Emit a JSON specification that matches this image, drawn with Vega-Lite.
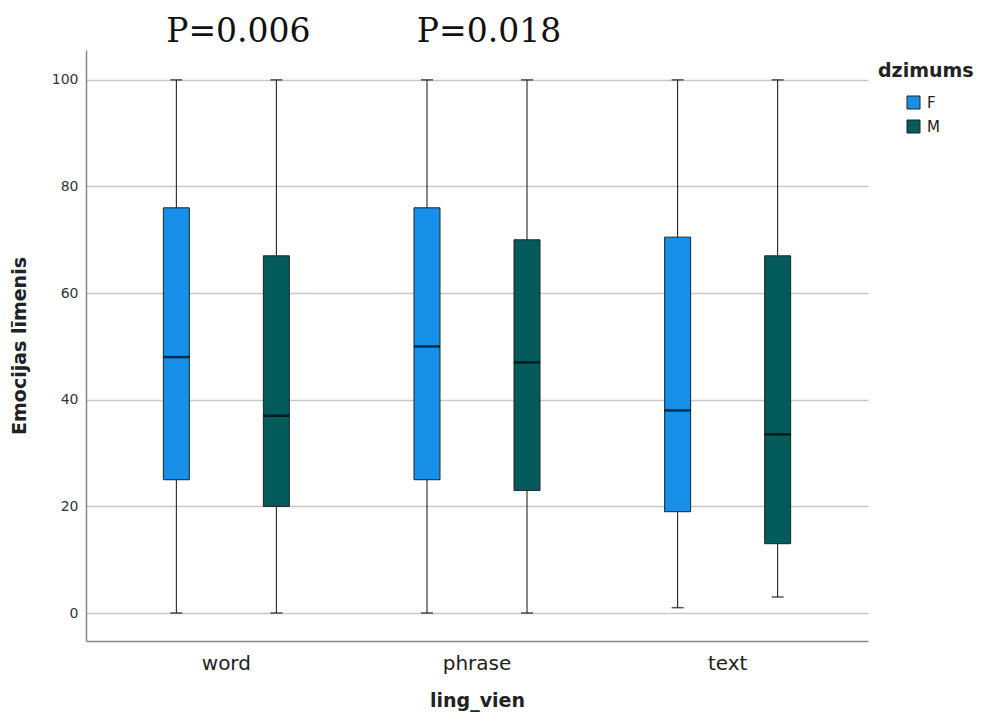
{
  "$schema": "https://vega.github.io/schema/vega-lite/v6.json",
  "width": 782,
  "height": 591,
  "autosize": {"type": "none"},
  "padding": {"left": 86, "top": 50, "right": 113, "bottom": 77},
  "background": "white",
  "config": {
    "view": {"stroke": null},
    "font": "DejaVu Sans"
  },
  "datasets": {
    "boxes": [
      {"ling_vien": "word", "dzimums": "F", "min": 0, "q1": 25, "median": 48, "q3": 76, "max": 100},
      {"ling_vien": "word", "dzimums": "M", "min": 0, "q1": 20, "median": 37, "q3": 67, "max": 100},
      {"ling_vien": "phrase", "dzimums": "F", "min": 0, "q1": 25, "median": 50, "q3": 76, "max": 100},
      {"ling_vien": "phrase", "dzimums": "M", "min": 0, "q1": 23, "median": 47, "q3": 70, "max": 100},
      {"ling_vien": "text", "dzimums": "F", "min": 1, "q1": 19, "median": 38, "q3": 70.5, "max": 100},
      {"ling_vien": "text", "dzimums": "M", "min": 3, "q1": 13, "median": 33.5, "q3": 67, "max": 100}
    ],
    "pvals": [
      {"ling_vien": "word", "label": "P=0.006"},
      {"ling_vien": "phrase", "label": "P=0.018"}
    ]
  },
  "encoding": {
    "x": {
      "field": "ling_vien",
      "type": "nominal",
      "sort": ["word", "phrase", "text"],
      "scale": {"paddingInner": 0, "paddingOuter": 0.06},
      "axis": {
        "title": "ling_vien",
        "titleFont": "DejaVu Sans",
        "titleFontWeight": "bold",
        "titleFontSize": 19,
        "titleColor": "#222",
        "titlePadding": 18,
        "labelAngle": 0,
        "labelFontSize": 20,
        "labelColor": "#222",
        "labelPadding": 12,
        "ticks": false,
        "domainColor": "#888",
        "domainWidth": 1.5,
        "grid": false
      }
    }
  },
  "layer": [
    {
      "data": {"name": "boxes"},
      "mark": {"type": "rule", "color": "#111", "strokeWidth": 1},
      "encoding": {
        "xOffset": {"field": "dzimums", "type": "nominal", "scale": {"paddingInner": 0.74, "paddingOuter": 0.623}},
        "y": {
          "field": "min",
          "type": "quantitative",
          "scale": {"domain": [-5.25, 105.6], "nice": false, "zero": false},
          "axis": {
            "title": "Emocijas līmenis",
            "titleFont": "DejaVu Sans",
            "titleFontWeight": "bold",
            "titleFontSize": 19,
            "titleColor": "#222",
            "titlePadding": 22,
            "values": [0, 20, 40, 60, 80, 100],
            "labelFontSize": 14,
            "labelColor": "#333",
            "labelPadding": 8,
            "ticks": false,
            "domainColor": "#888",
            "domainWidth": 1.5,
            "gridColor": "#c8c8c8",
            "gridWidth": 1.5
          }
        },
        "y2": {"field": "max"}
      }
    },
    {
      "data": {"name": "boxes"},
      "mark": {"type": "tick", "color": "#111", "size": 12, "thickness": 1.5},
      "encoding": {
        "xOffset": {"field": "dzimums", "type": "nominal"},
        "y": {"field": "min", "type": "quantitative"}
      }
    },
    {
      "data": {"name": "boxes"},
      "mark": {"type": "tick", "color": "#111", "size": 12, "thickness": 1.5},
      "encoding": {
        "xOffset": {"field": "dzimums", "type": "nominal"},
        "y": {"field": "max", "type": "quantitative"}
      }
    },
    {
      "data": {"name": "boxes"},
      "mark": {"type": "bar", "stroke": "#222", "strokeWidth": 1},
      "encoding": {
        "xOffset": {"field": "dzimums", "type": "nominal"},
        "y": {"field": "q1", "type": "quantitative"},
        "y2": {"field": "q3"},
        "color": {
          "field": "dzimums",
          "type": "nominal",
          "scale": {"domain": ["F", "M"], "range": ["#1690e8", "#035b5b"]},
          "legend": {
            "title": "dzimums",
            "orient": "none",
            "legendX": 792,
            "legendY": 12,
            "titleFont": "DejaVu Sans",
            "titleFontWeight": "bold",
            "titleFontSize": 19,
            "titleColor": "#222",
            "titlePadding": 14,
            "symbolType": "square",
            "symbolSize": 169,
            "symbolStrokeColor": "#222",
            "symbolStrokeWidth": 1,
            "symbolOffset": 28,
            "labelFontSize": 15,
            "labelColor": "#222",
            "labelOffset": 6,
            "rowPadding": 7
          }
        }
      }
    },
    {
      "data": {"name": "boxes"},
      "mark": {"type": "tick", "color": "#000", "size": 26, "thickness": 2.5},
      "encoding": {
        "xOffset": {"field": "dzimums", "type": "nominal"},
        "y": {"field": "median", "type": "quantitative"}
      }
    },
    {
      "data": {"name": "pvals"},
      "mark": {"type": "text", "font": "DejaVu Serif", "fontSize": 33, "color": "#111", "baseline": "alphabetic", "align": "center", "dx": 12},
      "encoding": {
        "y": {"datum": 107.1, "type": "quantitative"},
        "text": {"field": "label"}
      }
    }
  ]
}
